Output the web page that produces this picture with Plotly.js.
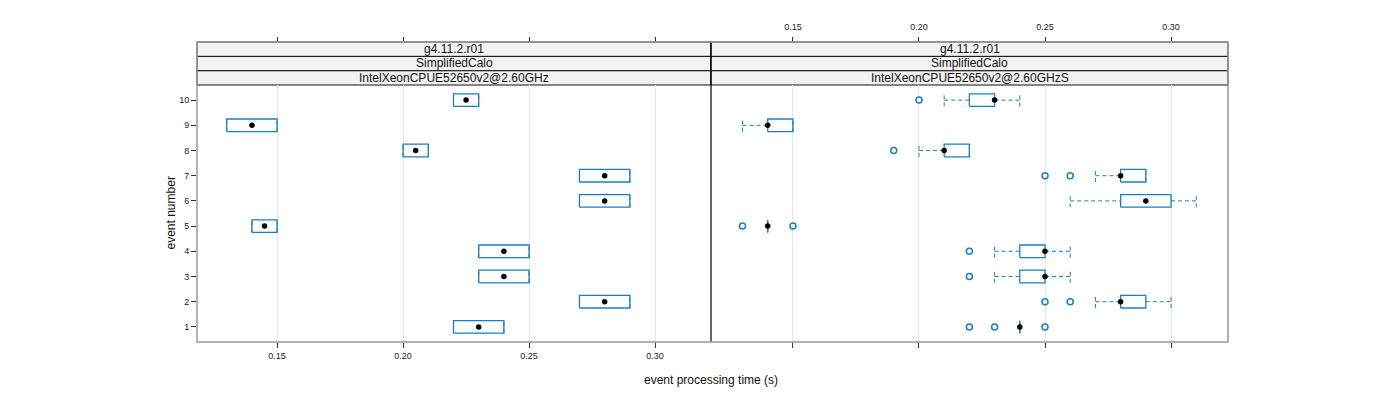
<!DOCTYPE html>
<html>
<head>
<meta charset="utf-8">
<script src="https://cdn.plot.ly/plotly-3.0.1.min.js"></script>
<style>html,body{margin:0;padding:0;background:#fff;}</style>
</head>
<body>
<div id="chart" style="width:1400px;height:400px;"></div>
<script>
// ---- data ----
const events = [1, 2, 3, 4, 5, 6, 7, 8, 9, 10];
const stripVersion = "g4.11.2.r01";
const stripTest = "SimplifiedCalo";
const stripCpuLeft = "IntelXeonCPUE52650v2@2.60GHz";
const stripCpuRight = "IntelXeonCPUE52650v2@2.60GHzS";
const tickVals = [0.15, 0.20, 0.25, 0.30];
const tickText = ["0.15", "0.20", "0.25", "0.30"];

// left panel (IntelXeonCPUE52650v2@2.60GHz)
const leftLowW = [0.22, 0.27, 0.23, 0.23, 0.14, 0.27, 0.27, 0.20, 0.13, 0.22];
const leftQ1   = [0.22, 0.27, 0.23, 0.23, 0.14, 0.27, 0.27, 0.20, 0.13, 0.22];
const leftMed  = [0.23, 0.28, 0.24, 0.24, 0.145, 0.28, 0.28, 0.205, 0.14, 0.225];
const leftQ3   = [0.24, 0.29, 0.25, 0.25, 0.15, 0.29, 0.29, 0.21, 0.15, 0.23];
const leftUpW  = [0.24, 0.29, 0.25, 0.25, 0.15, 0.29, 0.29, 0.21, 0.15, 0.23];
const leftOut  = [[], [], [], [], [], [], [], [], [], []];

// right panel (IntelXeonCPUE52650v2@2.60GHzS)
const rightLowW = [0.24, 0.27, 0.23, 0.23, 0.14, 0.26, 0.27, 0.20, 0.13, 0.21];
const rightQ1   = [0.24, 0.28, 0.24, 0.24, 0.14, 0.28, 0.28, 0.21, 0.14, 0.22];
const rightMed  = [0.24, 0.28, 0.25, 0.25, 0.14, 0.29, 0.28, 0.21, 0.14, 0.23];
const rightQ3   = [0.24, 0.29, 0.25, 0.25, 0.14, 0.30, 0.29, 0.22, 0.15, 0.23];
const rightUpW  = [0.24, 0.30, 0.26, 0.26, 0.14, 0.31, 0.29, 0.22, 0.15, 0.24];
const rightOut  = [[0.22, 0.23, 0.25], [0.25, 0.26], [0.22], [0.22], [0.13, 0.15], [], [0.25, 0.26], [0.19], [], [0.20]];

// ---- style ----
const BLUE = "#1a7fc1";
const HH = 0.25;  // half box height in category units
const FONT = "Liberation Sans, Arial, sans-serif";

function panelTraces(xa, lowW, q1, med, q3, upW, outs) {
  const bx = [], by = [], wx = [], wy = [], ox = [], oy = [];
  events.forEach((e, i) => {
    bx.push(q1[i], q3[i], q3[i], q1[i], q1[i], null);
    by.push(e - HH, e - HH, e + HH, e + HH, e - HH, null);
    wx.push(lowW[i], q1[i], null, q3[i], upW[i], null);
    wy.push(e, e, null, e, e, null);
    wx.push(lowW[i], lowW[i], null, upW[i], upW[i], null);
    wy.push(e - HH, e + HH, null, e - HH, e + HH, null);
    outs[i].forEach(v => { ox.push(v); oy.push(e); });
  });
  return [
    {type: "scatter", mode: "lines", x: wx, y: wy, xaxis: xa, yaxis: "y",
     line: {color: BLUE, width: 1, dash: "4px,3px"}, hoverinfo: "skip", showlegend: false},
    {type: "scatter", mode: "lines", x: bx, y: by, xaxis: xa, yaxis: "y",
     line: {color: BLUE, width: 1.3}, hoverinfo: "skip", showlegend: false},
    {type: "scatter", mode: "markers", x: ox, y: oy, xaxis: xa, yaxis: "y",
     marker: {symbol: "circle-open", size: 6, color: BLUE, line: {width: 1.5, color: BLUE}},
     showlegend: false},
    {type: "scatter", mode: "markers", x: med, y: events, xaxis: xa, yaxis: "y",
     marker: {symbol: "circle", size: 5.5, color: "#000"}, showlegend: false}
  ];
}

const traces = [].concat(
  panelTraces("x", leftLowW, leftQ1, leftMed, leftQ3, leftUpW, leftOut),
  panelTraces("x2", rightLowW, rightQ1, rightMed, rightQ3, rightUpW, rightOut),
  [
    {type: "scatter", mode: "markers", x: [], y: [], xaxis: "x3", yaxis: "y", showlegend: false},
    {type: "scatter", mode: "markers", x: [], y: [], xaxis: "x4", yaxis: "y", showlegend: false}
  ]
);

// geometry (pixels): panels 197..1228 x, strips 42..85, panel 85..342
const W = 1031, H = 300;
const split = (711 - 197) / W;
const panelTop = 257 / H;
const stripH = (1 - panelTop) / 3;
const xRangeLeft = [0.1182, 0.3222];
const xRangeRight = [0.1175, 0.3226];

const baseX = {
  tickvals: tickVals, ticktext: tickText,
  ticks: "outside", ticklen: 5, tickcolor: "#333", tickwidth: 1,
  showgrid: true, gridcolor: "#e6e6e6", gridwidth: 1,
  zeroline: false, showline: false, fixedrange: true,
  tickfont: {family: FONT, size: 9, color: "#222"}
};

const layout = {
  width: 1400, height: 400,
  margin: {l: 197, r: 172, t: 42, b: 58, pad: 0},
  paper_bgcolor: "#fff", plot_bgcolor: "#fff",
  showlegend: false,
  font: {family: FONT, color: "#222"},
  xaxis: Object.assign({}, baseX, {range: xRangeLeft, domain: [0, split], anchor: "y", showticklabels: true}),
  xaxis2: Object.assign({}, baseX, {range: xRangeRight, domain: [split, 1], anchor: "y", showticklabels: false}),
  xaxis3: Object.assign({}, baseX, {range: xRangeLeft, overlaying: "x", side: "top", anchor: "free", position: 1,
                                    showticklabels: false, showgrid: false}),
  xaxis4: Object.assign({}, baseX, {range: xRangeRight, overlaying: "x2", side: "top", anchor: "free", position: 1,
                                    showticklabels: true, showgrid: false, ticklabelstandoff: 3}),
  yaxis: {
    domain: [0, panelTop], range: [0.4, 10.6], anchor: "x",
    tickvals: events, ticktext: events.map(String),
    ticks: "outside", ticklen: 5, tickcolor: "#333",
    showgrid: false, zeroline: false, showline: false, fixedrange: true,
    tickfont: {family: FONT, size: 9, color: "#222"}
  },
  shapes: [],
  annotations: []
};

// strips
const stripLabelsLeft = [stripCpuLeft, stripTest, stripVersion];
const stripLabelsRight = [stripCpuRight, stripTest, stripVersion];
[[0, split, stripLabelsLeft], [split, 1, stripLabelsRight]].forEach(([x0, x1, labels]) => {
  labels.forEach((lab, k) => {
    const y0 = panelTop + k * stripH, y1 = y0 + stripH;
    layout.shapes.push({type: "rect", xref: "paper", yref: "paper", x0: x0, x1: x1, y0: y0, y1: y1,
      fillcolor: "#f2f2f2", line: {color: "#111", width: 1}, layer: "below"});
    layout.annotations.push({xref: "paper", yref: "paper", x: (x0 + x1) / 2, y: (y0 + y1) / 2,
      text: lab, showarrow: false, xanchor: "center", yanchor: "middle",
      font: {family: FONT, size: 12, color: "#111"}});
  });
});
layout.shapes.push({type: "line", xref: "paper", yref: "paper", x0: split, x1: split, y0: 0, y1: 1,
  line: {color: "#000", width: 1.2}});
layout.shapes.push({type: "rect", xref: "paper", yref: "paper", x0: 0, x1: 1, y0: 0, y1: 1,
  line: {color: "#999", width: 1.5}});

layout.annotations.push({xref: "paper", yref: "paper", x: split, y: -38 / H,
  text: "event processing time (s)", showarrow: false, xanchor: "center", yanchor: "middle",
  font: {family: FONT, size: 12, color: "#111"}});
layout.annotations.push({xref: "paper", yref: "paper", x: -27 / W, y: panelTop / 2,
  text: "event number", showarrow: false, textangle: -90, xanchor: "center", yanchor: "middle",
  font: {family: FONT, size: 12, color: "#111"}});

Plotly.newPlot("chart", traces, layout, {staticPlot: true, displayModeBar: false});
</script>
</body>
</html>
